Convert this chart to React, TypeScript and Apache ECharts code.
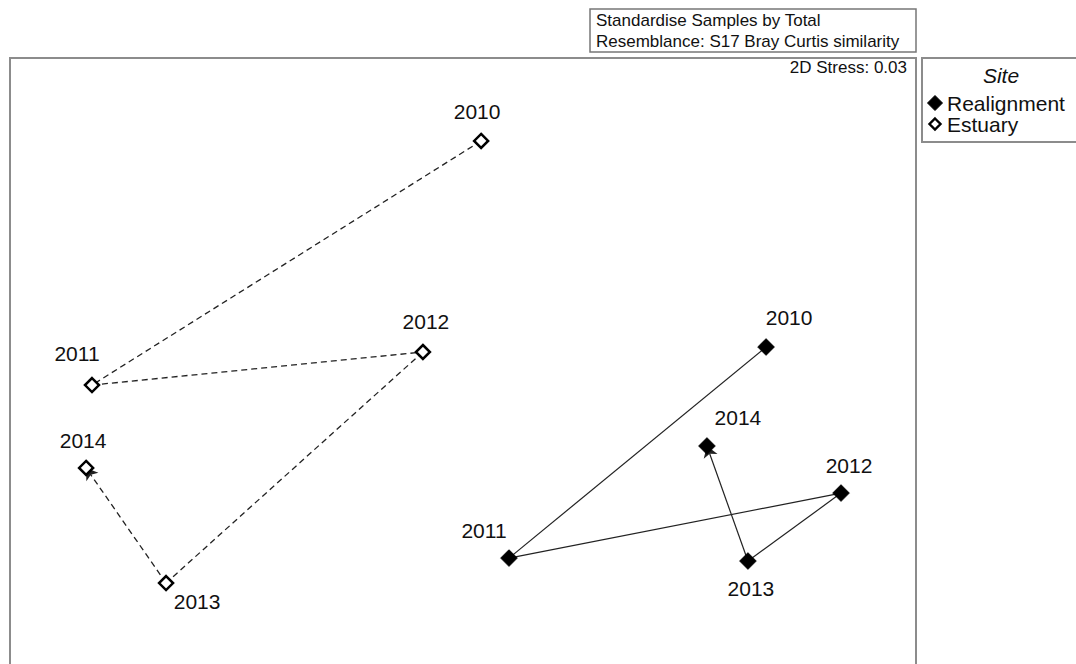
import React, { useEffect, useRef } from "react";
import * as echarts from "echarts";

const years = ["2010", "2011", "2012", "2013", "2014"];
const estuaryX = [0.08, -1.638, -0.177, -1.311, -1.664];
const estuaryY = [1.134, 0.056, 0.202, -0.818, -0.31];
const realignX = [1.338, 0.203, 1.669, 1.258, 1.077];
const realignY = [0.224, -0.708, -0.421, -0.721, -0.213];

const estuaryLabelOffsets = [[-4, -29], [-15, -32], [3, -30], [31, 18], [-3, -27]];
const realignLabelOffsets = [[23, -30], [-25, -28], [8, -28], [3, 27], [31, -28]];

const FONT = 'Arial, "Liberation Sans", sans-serif';

function diamond(cx: number, cy: number, r: number) {
  return [[cx, cy - r], [cx + r, cy], [cx, cy + r], [cx - r, cy]];
}

export default function App() {
  const ref = useRef<HTMLDivElement>(null);
  useEffect(() => {
    document.body.style.margin = "0";
    document.body.style.overflow = "hidden";
    const chart = echarts.init(ref.current!, null, { renderer: "svg" });
    const estPts = years.map((y, i) => [estuaryX[i], estuaryY[i]]);
    const reaPts = years.map((y, i) => [realignX[i], realignY[i]]);
    const segs = (pts: number[][]) =>
      pts.slice(0, -1).map((p, i) => ({ coords: [p, pts[i + 1]] }));
    const mkLines = (pts: number[][], dashed: boolean) => {
      const all = segs(pts);
      const ls = dashed
        ? { color: "#222", width: 1.3, type: [6, 4], opacity: 1 }
        : { color: "#222", width: 1.2, type: "solid", opacity: 1 };
      return [
        {
          type: "lines",
          coordinateSystem: "cartesian2d",
          z: 3,
          symbol: ["none", "none"],
          lineStyle: ls,
          data: all.slice(0, -1),
        },
        {
          type: "lines",
          coordinateSystem: "cartesian2d",
          z: 3,
          symbol: ["none", "arrow"],
          symbolSize: 11,
          lineStyle: ls,
          data: all.slice(-1),
        },
      ];
    };
    const mkScatter = (pts: number[][], offs: number[][], filled: boolean, name: string) => ({
      type: "scatter",
      name,
      z: 5,
      symbol: "diamond",
      symbolSize: filled ? [17, 17] : [14, 14],
      itemStyle: filled
        ? { color: "#000", borderColor: "#000", borderWidth: 0.5, opacity: 1 }
        : { color: "#fff", borderColor: "#000", borderWidth: 2.5, opacity: 1 },
      data: pts.map((p, i) => ({
        value: p,
        label: {
          show: true,
          formatter: years[i],
          position: "inside",
          offset: offs[i],
          fontSize: 21,
          fontFamily: FONT,
          color: "#111",
          opacity: 1,
        },
      })),
    });
    chart.setOption({
      animation: false,
      grid: {
        left: 10,
        top: 58,
        width: 906,
        height: 634.2,
        show: true,
        borderColor: "#8c8c8c",
        borderWidth: 2,
        backgroundColor: "#fff",
      },
      xAxis: {
        type: "value",
        min: -2,
        max: 2,
        axisLine: { show: false },
        axisTick: { show: false },
        axisLabel: { show: false },
        splitLine: { show: false },
      },
      yAxis: {
        type: "value",
        min: -1.3,
        max: 1.5,
        axisLine: { show: false },
        axisTick: { show: false },
        axisLabel: { show: false },
        splitLine: { show: false },
      },
      series: [
        ...mkLines(estPts, true),
        ...mkLines(reaPts, false),
        mkScatter(estPts, estuaryLabelOffsets, false, "Estuary"),
        mkScatter(reaPts, realignLabelOffsets, true, "Realignment"),
      ],
      graphic: [
        {
          type: "rect",
          shape: { x: 590, y: 9, width: 326, height: 43 },
          style: { fill: "#fff", stroke: "#777", lineWidth: 1.5 },
        },
        {
          type: "text",
          x: 596,
          y: 20,
          style: { text: "Standardise Samples by Total", font: `17px ${FONT}`, fill: "#111", verticalAlign: "middle" },
        },
        {
          type: "text",
          x: 596,
          y: 41,
          style: { text: "Resemblance: S17 Bray Curtis similarity", font: `17px ${FONT}`, fill: "#111", verticalAlign: "middle" },
        },
        {
          type: "text",
          x: 907,
          y: 67,
          style: { text: "2D Stress: 0.03", font: `17px ${FONT}`, fill: "#111", align: "right", verticalAlign: "middle" },
        },
        {
          type: "rect",
          shape: { x: 922, y: 58, width: 170, height: 84 },
          style: { fill: "#fff", stroke: "#8c8c8c", lineWidth: 2 },
        },
        {
          type: "text",
          x: 1001,
          y: 75,
          style: { text: "Site", font: `italic 21px ${FONT}`, fill: "#111", align: "center", verticalAlign: "middle" },
        },
        {
          type: "polygon",
          shape: { points: diamond(935, 103, 7.5) },
          style: { fill: "#000", stroke: "#000", lineWidth: 1 },
        },
        {
          type: "text",
          x: 947,
          y: 103,
          style: { text: "Realignment", font: `21px ${FONT}`, fill: "#111", verticalAlign: "middle" },
        },
        {
          type: "polygon",
          shape: { points: diamond(935, 124, 5.5) },
          style: { fill: "#fff", stroke: "#000", lineWidth: 2.4 },
        },
        {
          type: "text",
          x: 947,
          y: 124,
          style: { text: "Estuary", font: `21px ${FONT}`, fill: "#111", verticalAlign: "middle" },
        },
      ],
    });
    return () => chart.dispose();
  }, []);
  return (
    <div style={{ width: 1076, height: 664, overflow: "hidden" }}>
      <div ref={ref} style={{ width: 1076, height: 720 }} />
    </div>
  );
}
